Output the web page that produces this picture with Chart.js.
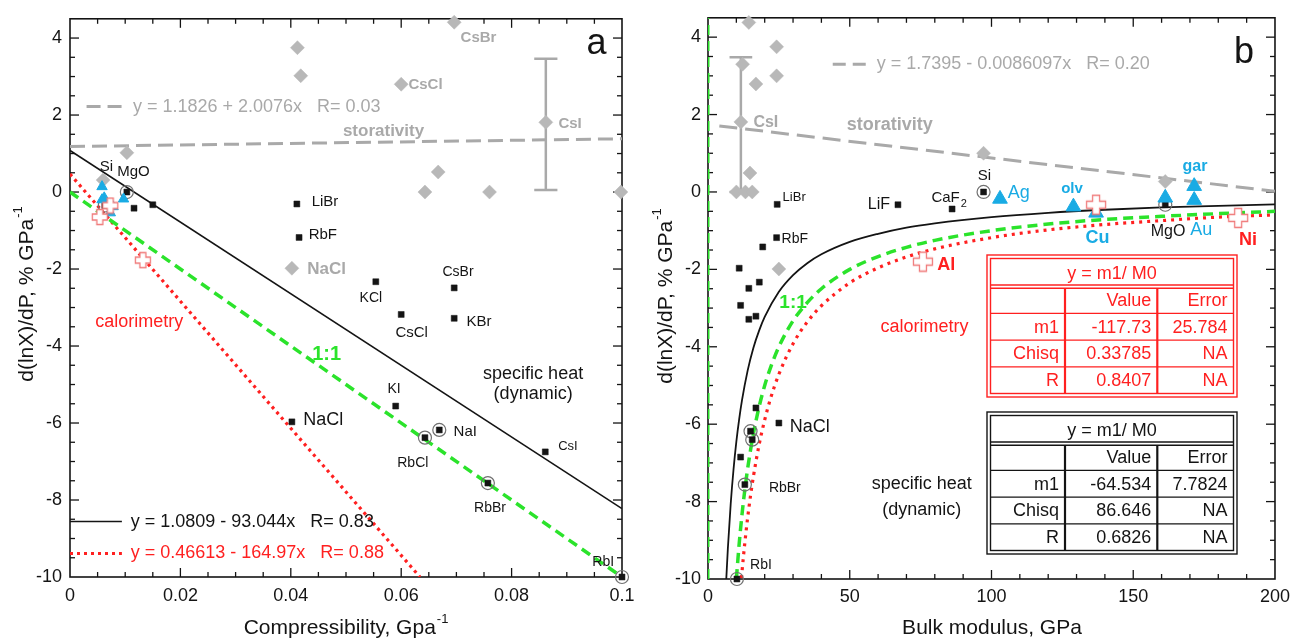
<!DOCTYPE html>
<html><head><meta charset="utf-8"><title>chart</title>
<script src="https://cdn.jsdelivr.net/npm/chart.js@4.4.1/dist/chart.umd.min.js"></script>
<style>
html,body{margin:0;padding:0;background:#fff;overflow:hidden}
#wrap{position:relative;width:1297px;height:642px;background:#fff}
canvas{position:absolute;top:0}
#ca{left:0}#cb{left:648px}
</style></head><body>
<div id="wrap"><canvas id="ca" width="648" height="642"></canvas><canvas id="cb" width="649" height="642"></canvas></div>
<script>
// ================= DATA =================
const yTicks = [-10,-8,-6,-4,-2,0,2,4];
const yTickLabels = ['-10','-8','-6','-4','-2','0','2','4'];
const aXTicks = [0,0.02,0.04,0.06,0.08,0.1];
const aXTickLabels = ['0','0.02','0.04','0.06','0.08','0.1'];
const bXTicks = [0,50,100,150,200];
const bXTickLabels = ['0','50','100','150','200'];

// Panel a: compressibility (1/GPa) vs d(lnX)/dP
const aSqX = [0.0103,0.0063,0.0116,0.0150,0.0411,0.0415,0.0554,0.0696,0.0600,0.0696,0.0590,0.0402,0.0669,0.0643,0.0861,0.0757,0.1000];
const aSqY = [0,-0.35,-0.42,-0.33,-0.31,-1.18,-2.33,-2.49,-3.18,-3.28,-5.56,-5.97,-6.18,-6.38,-6.75,-7.56,-10];
const aRingX = [0.0103,0.0063,0.0669,0.0643,0.0757,0.1000];
const aRingY = [0,-0.35,-6.18,-6.38,-7.56,-10];
const aTriX = [0.0058,0.0058,0.0097,0.0078,0.0073,0.0062];
const aTriY = [0.14,-0.20,-0.18,-0.38,-0.54,-0.15];
const aCrossX = [0.0073,0.0054,0.0132];
const aCrossY = [-0.35,-0.65,-1.77];
const aDiaX = [0.0060,0.0103,0.0412,0.0418,0.0402,0.0696,0.0600,0.0862,0.0643,0.0667,0.0760,0.0998];
const aDiaY = [0.31,1.02,3.75,3.02,-1.98,4.41,2.80,1.81,0.0,0.52,0.0,0.0];
const aErrX = 0.0862, aErrLo = 0.05, aErrHi = 3.46;
const aFitBlackX = [0,0.1], aFitBlackY = [1.0809,-8.2235];
const aFitRedX = [0,0.0634], aFitRedY = [0.46613,-10.0];
const aFitGrayX = [0,0.1], aFitGrayY = [1.1826,1.3834];
const aOneX = [0,0.1], aOneY = [0,-10];

// Panel b: bulk modulus (GPa) vs d(lnX)/dP
const bSqK = [24.4,67.0,86.1,97.2,161.3,24.2,19.3,11.0,14.4,18.1,11.5,14.4,16.9,16.9,15.0,15.6,25.0,11.5,13.0,10.2];
const bSqY = [-0.32,-0.33,-0.44,0,-0.33,-1.18,-1.42,-1.97,-2.49,-2.33,-2.93,-3.29,-3.21,-5.58,-6.18,-6.40,-5.97,-6.85,-7.56,-10];
const bRingK = [97.2,161.3,15.0,15.6,13.0,10.2];
const bRingY = [0,-0.33,-6.18,-6.40,-7.56,-10];
const bTriK = [103,128.9,136.9,161.3,171.5,171.5];
const bTriY = [-0.18,-0.38,-0.54,-0.15,0.15,-0.21];
const bCrossK = [136.9,187,75.8];
const bCrossY = [-0.33,-0.67,-1.80];
const bDiaK = [14.4,24.2,16.9,24.2,12.2,11.6,14.8,10.0,13.2,15.6,97.2,161.3,25.0];
const bDiaY = [4.38,3.75,2.79,3.00,3.30,1.81,0.49,0,0,0,1.00,0.27,-1.99];
const bErrK = 11.6, bErrLo = 0.0, bErrHi = 3.48;
const bFitGrayK = [4,200], bFitGrayY = [1.705,0.018];
const bFitBlackK = [6.45,7,8,9,10,11,12,14,16,18,20,25,30,35,40,50,60,70,80,100,120,140,160,180,200];
const bFitBlackY = [-10.0,-9.22,-8.07,-7.17,-6.45,-5.87,-5.38,-4.61,-4.03,-3.59,-3.23,-2.58,-2.15,-1.84,-1.61,-1.29,-1.08,-0.92,-0.81,-0.65,-0.54,-0.46,-0.40,-0.36,-0.32];
const bOneK = [10,11,12,13,14,16,18,20,22,25,30,35,40,50,60,70,80,100,120,140,160,180,200];
const bOneY = [-10,-9.09,-8.33,-7.69,-7.14,-6.25,-5.56,-5.0,-4.55,-4.0,-3.33,-2.86,-2.5,-2.0,-1.67,-1.43,-1.25,-1.0,-0.83,-0.71,-0.63,-0.56,-0.5];
const bCalK = [11.8,12,13,14,15,16,18,20,22,25,30,35,40,50,60,70,80,100,120,140,160,180,200];
const bCalY = [-9.98,-9.81,-9.06,-8.41,-7.85,-7.36,-6.54,-5.89,-5.35,-4.71,-3.92,-3.36,-2.94,-2.35,-1.96,-1.68,-1.47,-1.18,-0.98,-0.84,-0.74,-0.65,-0.59];
const bAxisLineK = [0,0], bAxisLineY = [-10,4.5];

const redTableHeader = 'y = m1/ M0';
const redTableRows = [['','Value','Error'],['m1','-117.73','25.784'],['Chisq','0.33785','NA'],['R','0.8407','NA']];
const blackTableHeader = 'y = m1/ M0';
const blackTableRows = [['','Value','Error'],['m1','-64.534','7.7824'],['Chisq','86.646','NA'],['R','0.6826','NA']];

// ================= STYLE =================
const FONT = '"Liberation Sans", Arial, Helvetica, sans-serif';
const BLK='#141414', GRY='#a9a9a9', GRYL='#b8b8b8', RED='#ff2020', GRN='#2be32b', CYN='#19abe4', CRS='#f07a7a';

function pts(xs, ys){ return xs.map((x,i)=>({x:x, y:ys[i]})); }
function lineDs(data, color, width, dash, extra){
  return Object.assign({data, showLine:true, borderColor:color, borderWidth:width, borderDash:dash||[], pointRadius:0, fill:false, order:20}, extra||{});
}
function ptDs(data, style, radius, bg, border, bw, order){
  return {data, showLine:false, pointStyle:style, pointRadius:radius, pointBackgroundColor:bg, pointBorderColor:border, pointBorderWidth:bw, order, clip:false};
}
function makeCross(sz, arm, color){
  const c = document.createElement('canvas'); c.width = sz+3; c.height = sz+3;
  const g = c.getContext('2d'); const m = (sz+3)/2, h = sz/2, a = arm/2;
  g.beginPath();
  g.moveTo(m-a,m-h); g.lineTo(m+a,m-h); g.lineTo(m+a,m-a); g.lineTo(m+h,m-a); g.lineTo(m+h,m+a); g.lineTo(m+a,m+a);
  g.lineTo(m+a,m+h); g.lineTo(m-a,m+h); g.lineTo(m-a,m+a); g.lineTo(m-h,m+a); g.lineTo(m-h,m-a); g.lineTo(m-a,m-a); g.closePath();
  g.fillStyle='#fff'; g.fill(); g.strokeStyle=color; g.lineWidth=1.3; g.stroke();
  return c;
}
function errDs(x, lo, hi, hw){
  const st = {borderColor:'#a9a9a9', borderWidth:2.5, order:15};
  return [lineDs([{x, y:lo},{x, y:hi}], '#a9a9a9', 2.5, [], st),
          lineDs([{x:x-hw, y:hi},{x:x+hw, y:hi}], '#a9a9a9', 2.5, [], st),
          lineDs([{x:x-hw, y:lo},{x:x+hw, y:lo}], '#a9a9a9', 2.5, [], st)];
}

const decor = {
  id:'decor',
  beforeDatasetsDraw(chart, args, o){
    const ctx = chart.ctx, ca = chart.chartArea, xs = chart.scales.x, ys = chart.scales.y;
    ctx.save();
    ctx.strokeStyle = BLK; ctx.lineWidth = 1.6;
    ctx.strokeRect(ca.left, ca.top, ca.right-ca.left, ca.bottom-ca.top);
    ctx.lineWidth = 1.3;
    const seg=(x1,y1,x2,y2)=>{ctx.beginPath();ctx.moveTo(x1,y1);ctx.lineTo(x2,y2);ctx.stroke();};
    let n = Math.round((xs.max-xs.min)/o.xMinor);
    for (let i=1;i<n;i++){
      const v = xs.min + i*o.xMinor; const r = v/o.xMajor; const maj = Math.abs(r-Math.round(r))<1e-6;
      const L = maj?9:5; const p = xs.getPixelForValue(v);
      seg(p, ca.bottom, p, ca.bottom-L); seg(p, ca.top, p, ca.top+L);
    }
    n = Math.round((ys.max-ys.min)/o.yMinor);
    for (let i=1;i<n;i++){
      const v = ys.min + i*o.yMinor; const r = v/o.yMajor; const maj = Math.abs(r-Math.round(r))<1e-6;
      const L = maj?9:5; const p = ys.getPixelForValue(v);
      seg(ca.left, p, ca.left+L, p); seg(ca.right, p, ca.right-L, p);
    }
    ctx.restore();
  },
  afterDatasetsDraw(chart, args, o){
    const ctx = chart.ctx, xs = chart.scales.x, ys = chart.scales.y;
    ctx.save();
    // legend samples
    (o.legends||[]).forEach(L=>{
      const y = ys.getPixelForValue(L.y);
      ctx.beginPath(); ctx.setLineDash(L.dash||[]); ctx.lineCap='butt';
      ctx.strokeStyle=L.color; ctx.lineWidth=L.width;
      ctx.moveTo(xs.getPixelForValue(L.x0), y); ctx.lineTo(xs.getPixelForValue(L.x1), y); ctx.stroke();
      ctx.setLineDash([]);
      ctx.font = L.s+'px '+FONT; ctx.fillStyle=L.tc; ctx.textAlign='left'; ctx.textBaseline='middle';
      ctx.fillText(L.text, xs.getPixelForValue(L.tx), y);
    });
    // text labels
    (o.labels||[]).forEach(L=>{
      const px = xs.getPixelForValue(L.x), py = ys.getPixelForValue(L.y);
      ctx.font = (L.b?'bold ':'') + L.s + 'px ' + FONT;
      ctx.fillStyle = L.c || BLK; ctx.textBaseline='middle'; ctx.textAlign = L.al || 'center';
      ctx.fillText(L.t, px, py);
      if (L.sub){
        const w = ctx.measureText(L.t).width;
        ctx.font = Math.round(L.s*0.72)+'px '+FONT; ctx.textAlign='left';
        ctx.fillText(L.sub, px + (L.al==='left'?w:w/2) + 1, py + L.s*0.4);
      }
    });
    // tables
    (o.tables||[]).forEach(T=>drawTable(ctx, T));
    // axis titles
    (o.titles||[]).forEach(T=>drawTitle(ctx, T));
    ctx.restore();
  }
};
function drawTable(ctx, T){
  const W = T.cols.reduce((a,b)=>a+b,0), H = T.hh + T.rh*T.rows.length;
  const L = T.left, Tp = T.top;
  ctx.save();
  ctx.fillStyle='#fff'; ctx.fillRect(L-4, Tp-4, W+8, H+8);
  ctx.strokeStyle=T.color; ctx.lineWidth=1.4;
  ctx.strokeRect(L-3.5, Tp-3.5, W+7, H+7);
  ctx.strokeRect(L, Tp, W, H);
  const seg=(x1,y1,x2,y2,w)=>{ctx.lineWidth=w;ctx.beginPath();ctx.moveTo(x1,y1);ctx.lineTo(x2,y2);ctx.stroke();};
  seg(L, Tp+T.hh-1.6, L+W, Tp+T.hh-1.6, 1.5);
  seg(L, Tp+T.hh+1.6, L+W, Tp+T.hh+1.6, 1.5);
  for (let r=1;r<T.rows.length;r++){ const y = Tp+T.hh+r*T.rh; seg(L, y, L+W, y, 1.3); }
  let x = L;
  for (let c=0;c<T.cols.length-1;c++){ x += T.cols[c]; seg(x, Tp+T.hh+1.6, x, Tp+H, 2.2); }
  ctx.fillStyle=T.color; ctx.textBaseline='middle';
  ctx.font = T.s+'px '+FONT; ctx.textAlign='center';
  ctx.fillText(T.header, L+W/2, Tp+T.hh/2+1);
  ctx.textAlign='right';
  T.rows.forEach((row,r)=>{
    let cx = L; const cy = Tp+T.hh+r*T.rh+T.rh/2+1;
    row.forEach((cell,c)=>{ cx += T.cols[c]; if (cell) ctx.fillText(cell, cx-6, cy); });
  });
  ctx.restore();
}
function drawTitle(ctx, T){
  ctx.save(); ctx.translate(T.x, T.y); if (T.rot) ctx.rotate(T.rot);
  ctx.font = T.s+'px '+FONT; const w1 = ctx.measureText(T.t).width;
  ctx.font = T.ss+'px '+FONT; const w2 = T.sup ? ctx.measureText(T.sup).width+1 : 0;
  const w = w1 + w2;
  ctx.fillStyle=BLK; ctx.textBaseline='middle'; ctx.textAlign='left';
  ctx.font = T.s+'px '+FONT; ctx.fillText(T.t, -w/2, 0);
  if (T.sup){ ctx.font = T.ss+'px '+FONT; ctx.fillText(T.sup, -w/2 + w1 + 1, -T.s*0.4); }
  ctx.restore();
}

function makeChart(canvas, c){
  return new Chart(canvas, {
    type:'scatter',
    data:{datasets:c.datasets},
    options:{
      responsive:false, animation:false, devicePixelRatio:1, events:[],
      layout:{padding:c.padding},
      elements:{line:{tension:0}},
      plugins:{legend:{display:false}, tooltip:{enabled:false}, decor:c.decor},
      scales:{
        x:{type:'linear', min:c.xMin, max:c.xMax,
           afterBuildTicks:s=>{s.ticks = c.xTicks.map(v=>({value:v}));},
           afterFit:s=>{s.height = c.xH;},
           grid:{display:false, drawTicks:false}, border:{display:false},
           ticks:{font:{size:18, family:FONT}, color:BLK, padding:c.xPad, maxRotation:0, autoSkip:false,
                  callback:(v,i)=>c.xTickLabels[i]}},
        y:{type:'linear', min:-10, max:4.5,
           afterBuildTicks:s=>{s.ticks = yTicks.map(v=>({value:v}));},
           afterFit:s=>{s.width = c.yW;},
           grid:{display:false, drawTicks:false}, border:{display:false},
           ticks:{font:{size:18, family:FONT}, color:BLK, padding:c.yPad, autoSkip:false,
                  callback:(v,i)=>yTickLabels[i]}}
      }
    },
    plugins:[decor]
  });
}

const redDot = {borderCapStyle:'butt'};
const smooth = {cubicInterpolationMode:'monotone'};

// ================= PANEL A =================
makeChart(document.getElementById('ca'), {
  xMin:0, xMax:0.1, xTicks:aXTicks, xTickLabels:aXTickLabels,
  padding:{left:0, top:11, right:26, bottom:0}, yW:70, xH:65, xPad:8, yPad:8,
  datasets:[
    ptDs(pts(aCrossX,aCrossY), makeCross(15,6,CRS), 8, '#fff', CRS, 1, 1),
    ptDs(pts(aTriX,aTriY), 'triangle', 6, CYN, CYN, 1, 2),
    ptDs(pts(aSqX,aSqY), 'rect', 4.2, BLK, BLK, 0.5, 3),
    ptDs(pts(aRingX,aRingY), 'circle', 6.5, 'rgba(0,0,0,0)', '#707070', 1.2, 4),
    ptDs(pts(aDiaX,aDiaY), 'rectRot', 7, GRYL, GRYL, 0.5, 5),
    ...errDs(aErrX, aErrLo, aErrHi, 0.0021),
    lineDs(pts(aFitBlackX,aFitBlackY), BLK, 1.6, []),
    lineDs(pts(aOneX,aOneY), GRN, 3.5, [10,6]),
    lineDs(pts(aFitRedX,aFitRedY), RED, 3.2, [3,4], redDot),
    lineDs(pts(aFitGrayX,aFitGrayY), GRY, 3, [15,7])
  ],
  decor:{
    xMinor:0.005, xMajor:0.02, yMinor:0.5, yMajor:2,
    legends:[
      {x0:0.003, x1:0.0098, y:2.22, color:GRY, width:3, dash:[14,7], text:'y = 1.1826 + 2.0076x   R= 0.03', tx:0.0114, s:18, tc:GRY},
      {x0:0, x1:0.0094, y:-8.56, color:BLK, width:1.6, dash:[], text:'y = 1.0809 - 93.044x   R= 0.83', tx:0.011, s:18, tc:BLK},
      {x0:0, x1:0.0094, y:-9.39, color:RED, width:3.2, dash:[3,4], text:'y = 0.46613 - 164.97x   R= 0.88', tx:0.011, s:18, tc:RED}
    ],
    labels:[
      {t:'Si', x:0.0066, y:0.65, s:15},
      {t:'MgO', x:0.0115, y:0.52, s:15},
      {t:'LiBr', x:0.0462, y:-0.26, s:15},
      {t:'RbF', x:0.0458, y:-1.12, s:15},
      {t:'NaCl', x:0.0465, y:-2.0, s:17, c:GRY, b:true},
      {t:'calorimetry', x:0.01255, y:-3.38, s:18, c:RED},
      {t:'1:1', x:0.0465, y:-4.21, s:20, c:GRN, b:true},
      {t:'NaCl', x:0.0459, y:-5.92, s:18},
      {t:'KCl', x:0.0545, y:-2.76, s:14},
      {t:'CsBr', x:0.0703, y:-2.08, s:14},
      {t:'CsCl', x:0.0619, y:-3.66, s:15},
      {t:'KBr', x:0.0741, y:-3.36, s:15},
      {t:'specific heat', x:0.0839, y:-4.72, s:18},
      {t:'(dynamic)', x:0.0839, y:-5.26, s:18},
      {t:'KI', x:0.0587, y:-5.13, s:14},
      {t:'NaI', x:0.0716, y:-6.23, s:15},
      {t:'CsI', x:0.0902, y:-6.6, s:13},
      {t:'RbCl', x:0.0621, y:-7.03, s:14},
      {t:'RbBr', x:0.0761, y:-8.21, s:14},
      {t:'RbI', x:0.0966, y:-9.62, s:14},
      {t:'CsBr', x:0.074, y:4.01, s:15, c:GRY, b:true},
      {t:'CsCl', x:0.0644, y:2.79, s:15, c:GRY, b:true},
      {t:'CsI', x:0.0906, y:1.78, s:15, c:GRY, b:true},
      {t:'storativity', x:0.0568, y:1.58, s:17, c:GRY, b:true},
      {t:'a', x:0.0954, y:3.84, s:36}
    ],
    titles:[
      {t:'d(lnX)/dP, % GPa', sup:'-1', x:27, y:294, rot:-Math.PI/2, s:21, ss:13},
      {t:'Compressibility, Gpa', sup:'-1', x:346, y:628, s:21, ss:13}
    ]
  }
});

// ================= PANEL B =================
makeChart(document.getElementById('cb'), {
  xMin:0, xMax:200, xTicks:bXTicks, xTickLabels:bXTickLabels,
  padding:{left:0, top:13, right:21, bottom:0}, yW:60, xH:63, xPad:7, yPad:7,
  datasets:[
    ptDs(pts(bCrossK,bCrossY), makeCross(19,7,CRS), 10, '#fff', CRS, 1, 1),
    ptDs(pts(bTriK,bTriY), 'triangle', 8.5, CYN, CYN, 1, 2),
    ptDs(pts(bSqK,bSqY), 'rect', 4.2, BLK, BLK, 0.5, 3),
    ptDs(pts(bRingK,bRingY), 'circle', 6.5, 'rgba(0,0,0,0)', '#707070', 1.2, 4),
    ptDs(pts(bDiaK,bDiaY), 'rectRot', 7, GRYL, GRYL, 0.5, 5),
    ...errDs(bErrK, bErrLo, bErrHi, 4),
    lineDs(pts(bFitBlackK,bFitBlackY), BLK, 1.8, [], smooth),
    lineDs(pts(bOneK,bOneY), GRN, 3.5, [10,6], smooth),
    lineDs(pts(bCalK,bCalY), RED, 3.2, [3,5], Object.assign({}, redDot, smooth)),
    lineDs(pts(bFitGrayK,bFitGrayY), GRY, 3, [18,8]),
    lineDs(pts(bAxisLineK,bAxisLineY), GRN, 3, [10,6])
  ],
  decor:{
    xMinor:10, xMajor:50, yMinor:0.5, yMajor:2,
    legends:[
      {x0:44, x1:56, y:3.3, color:GRY, width:3, dash:[13,7], text:'y = 1.7395 - 0.0086097x   R= 0.20', tx:59.5, s:18, tc:GRY}
    ],
    labels:[
      {t:'CsI', x:20.4, y:1.78, s:16, c:GRY, b:true},
      {t:'storativity', x:64.1, y:1.74, s:18, c:GRY, b:true},
      {t:'LiBr', x:30.4, y:-0.14, s:13},
      {t:'LiF', x:60.3, y:-0.33, s:16},
      {t:'CaF', sub:'2', x:78.8, y:-0.16, s:15, al:'left'},
      {t:'Si', x:97.5, y:0.41, s:15},
      {t:'Ag', x:109.6, y:-0.03, s:18, c:CYN},
      {t:'olv', x:128.4, y:0.07, s:15, c:CYN, b:true},
      {t:'gar', x:171.8, y:0.66, s:16, c:CYN, b:true},
      {t:'Cu', x:137.4, y:-1.19, s:18, c:CYN, b:true},
      {t:'MgO', x:162.3, y:-1.03, s:16},
      {t:'Au', x:174.0, y:-0.99, s:18, c:CYN},
      {t:'Ni', x:190.5, y:-1.23, s:18, c:RED, b:true},
      {t:'Al', x:84.0, y:-1.9, s:18, c:RED, b:true},
      {t:'RbF', x:30.6, y:-1.21, s:14},
      {t:'1:1', x:30.0, y:-2.85, s:19, c:GRN, b:true},
      {t:'calorimetry', x:76.4, y:-3.49, s:18, c:RED},
      {t:'NaCl', x:35.9, y:-6.08, s:18},
      {t:'RbBr', x:27.1, y:-7.64, s:14},
      {t:'RbI', x:18.7, y:-9.64, s:14},
      {t:'specific heat', x:75.4, y:-7.55, s:18},
      {t:'(dynamic)', x:75.4, y:-8.23, s:18},
      {t:'b', x:189.1, y:3.6, s:36}
    ],
    tables:[
      {left:342.5, top:258.5, cols:[74.5,92.3,76.2], hh:28.2, rh:26.7, color:RED, s:18, header:redTableHeader, rows:redTableRows},
      {left:342.5, top:415.5, cols:[74.5,92.3,76.2], hh:28.2, rh:26.7, color:BLK, s:18, header:blackTableHeader, rows:blackTableRows}
    ],
    titles:[
      {t:'d(lnX)/dP, % GPa', sup:'-1', x:18, y:296, rot:-Math.PI/2, s:21, ss:13},
      {t:'Bulk modulus, GPa', sup:'', x:344, y:628, s:21, ss:13}
    ]
  }
});
</script></body></html>
